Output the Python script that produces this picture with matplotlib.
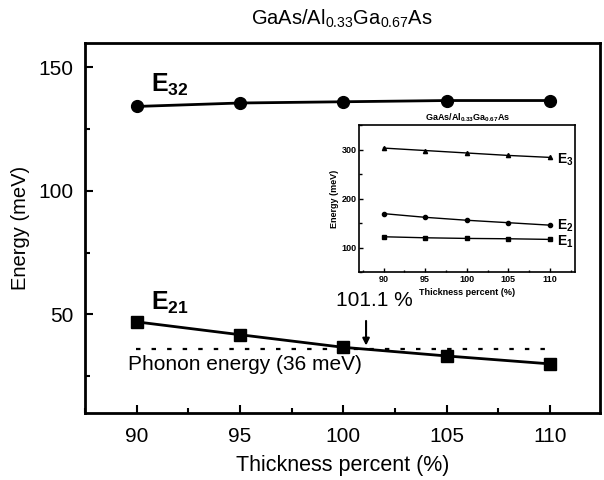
import matplotlib
matplotlib.use("Agg")
import matplotlib.pyplot as plt
from matplotlib.ticker import MultipleLocator

plt.rcParams['font.family'] = ['Liberation Sans', 'DejaVu Sans']
plt.rcParams['mathtext.fontset'] = 'custom'
plt.rcParams['mathtext.rm'] = 'Liberation Sans'
plt.rcParams['mathtext.default'] = 'regular'

# main plot data
thickness = [90, 95, 100, 105, 110]
e32 = [134.2, 135.6, 136.1, 136.6, 136.6]
e21 = [47.0, 41.8, 36.7, 33.2, 30.0]
phonon = 36
cross = 101.1

# inset data
e3 = [303, 298, 293, 288, 284]
e2 = [169.5, 162, 156, 151, 146]
e1 = [122.4, 120.3, 119, 118.3, 117]

title = r'GaAs/Al$_{0.33}$Ga$_{0.67}$As'

fig = plt.figure(figsize=(6.04, 4.8), dpi=100)
ax = fig.add_axes([0.1407, 0.139, 0.852, 0.772])

ax.plot(thickness, e32, 'k-', marker='o', ms=8.5, lw=2)
ax.plot(thickness, e21, 'k-', marker='s', ms=8, lw=2)
ax.axhline(phonon, xmin=(90 - 87.5) / 25, xmax=(110 - 87.5) / 25,
           color='k', lw=1.6, ls=(0, (2, 5)))

ax.set_xlim(87.5, 112.4)
ax.set_ylim(10, 160)
ax.xaxis.set_major_locator(MultipleLocator(5))
ax.xaxis.set_minor_locator(MultipleLocator(2.5))
ax.yaxis.set_major_locator(MultipleLocator(50))
ax.yaxis.set_minor_locator(MultipleLocator(25))
ax.tick_params(which='both', direction='in', width=1.5, labelsize=15)
ax.tick_params(axis='x', which='major', pad=10)
ax.tick_params(axis='y', which='major', pad=8)
ax.tick_params(which='major', length=6)
ax.tick_params(which='minor', length=3.5)
for s in ax.spines.values():
    s.set_linewidth(2)

ax.set_xlabel('Thickness percent (%)', fontsize=15.5, labelpad=6)
ax.set_ylabel('Energy (meV)', fontsize=14.5, labelpad=6)
ax.set_title(title, fontsize=14.5, pad=13)

ax.text(90.7, 143, r'E$_{32}$', fontsize=18, fontweight='bold', va='center')
ax.text(90.7, 54.5, r'E$_{21}$', fontsize=18, fontweight='bold', va='center')
ax.text(89.6, 29.7, 'Phonon energy (36 meV)', fontsize=15, va='center')
ax.text(101.5, 55.5, '101.1 %', fontsize=15, ha='center', va='center')
ax.annotate('', xy=(cross, phonon + 0.3), xytext=(cross, 48.5),
            arrowprops=dict(arrowstyle='-|>', color='k', lw=1.5,
                            mutation_scale=10))

# inset
ins = fig.add_axes([0.595, 0.4327, 0.357, 0.3069])
ins.plot(thickness, e3, 'k-', marker='^', ms=3, lw=1)
ins.plot(thickness, e2, 'k-', marker='o', ms=3, lw=1)
ins.plot(thickness, e1, 'k-', marker='s', ms=3, lw=1)
ins.set_xlim(87.1, 113)
ins.set_ylim(50, 350)
ins.xaxis.set_major_locator(MultipleLocator(5))
ins.xaxis.set_minor_locator(MultipleLocator(2.5))
ins.yaxis.set_major_locator(MultipleLocator(100))
ins.yaxis.set_minor_locator(MultipleLocator(50))
ins.tick_params(which='both', direction='in', width=1, labelsize=6.5, pad=2)
ins.tick_params(which='major', length=3)
ins.tick_params(which='minor', length=1.8)
for tl in ins.get_xticklabels() + ins.get_yticklabels():
    tl.set_fontweight('bold')
for s in ins.spines.values():
    s.set_linewidth(1.2)
ins.set_xlabel('Thickness percent (%)', fontsize=6.5, fontweight='bold', labelpad=3)
ins.set_ylabel('Energy (meV)', fontsize=6.5, fontweight='bold', labelpad=2)
ins.set_title(title, fontsize=6.5, fontweight='bold', pad=3)
ins.text(110.8, 280, r'E$_3$', fontsize=10, fontweight='bold', va='center')
ins.text(110.8, 144, r'E$_2$', fontsize=10, fontweight='bold', va='center')
ins.text(110.8, 112, r'E$_1$', fontsize=10, fontweight='bold', va='center')

fig.savefig('out.png', dpi=100)
